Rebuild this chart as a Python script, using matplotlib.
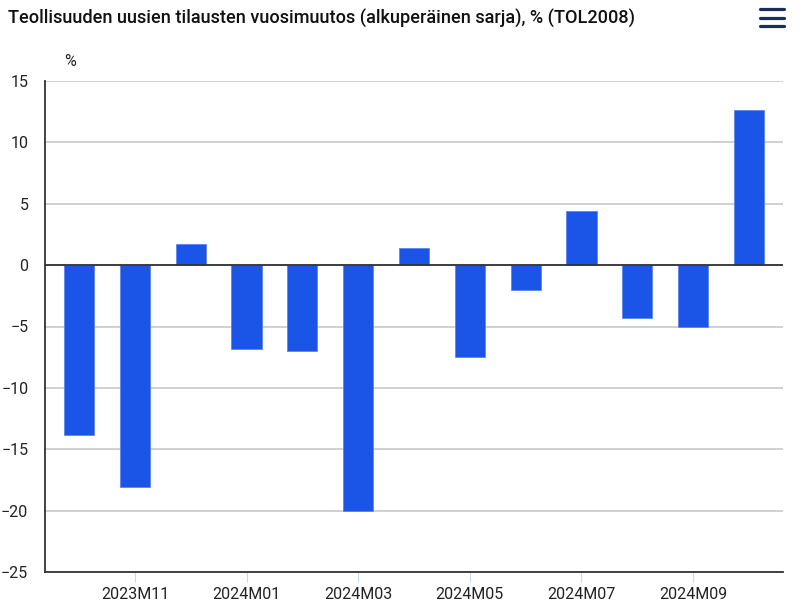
import matplotlib
matplotlib.use("Agg")
import matplotlib.pyplot as plt
from matplotlib.lines import Line2D

months = ["2023M10", "2023M11", "2023M12", "2024M01", "2024M02", "2024M03", "2024M04",
          "2024M05", "2024M06", "2024M07", "2024M08", "2024M09", "2024M10"]
values = [-13.8, -18.1, 1.7, -6.8, -7.0, -20.0, 1.4, -7.5, -2.0, 4.4, -4.3, -5.0, 12.6]
yticks = [-25, -20, -15, -10, -5, 0, 5, 10, 15]
title = "Teollisuuden uusien tilausten vuosimuutos (alkuperäinen sarja), % (TOL2008)"

fam = ["Roboto", "DejaVu Sans"]
plt.rcParams['font.family'] = fam

fig = plt.figure(figsize=(8, 6.08), dpi=100)
ax = fig.add_axes([45/800, 1-572/608, (783-45)/800, (572-81)/608])

x = list(range(len(months)))
ax.bar(x, values, width=0.54, color="#1a55e8", edgecolor="#5c86ef", linewidth=0.6, zorder=3)

ax.set_ylim(-25, 15)
ax.set_xlim(-0.61, 12.61)
ax.set_yticks(yticks)
ax.set_yticklabels([str(v).replace("-", "\u2212") for v in yticks])
ax.grid(axis="y", color="#c8c8c8", linewidth=1.2, zorder=0)
ax.axhline(0, color="#333333", linewidth=1.3, zorder=4)

tick_pos = [1, 3, 5, 7, 9, 11]
ax.set_xticks(tick_pos)
ax.set_xticklabels([months[i] for i in tick_pos])
ax.tick_params(axis="x", length=7, color="#ccd6eb", labelsize=11.5, labelcolor="#222222", pad=4)
ax.tick_params(axis="y", length=0, labelsize=11.5, labelcolor="#222222", pad=12)

for s in ["top", "right"]:
    ax.spines[s].set_visible(False)
ax.spines["left"].set_color("#333333")
ax.spines["left"].set_linewidth(1.3)
ax.spines["bottom"].set_color("#333333")
ax.spines["bottom"].set_linewidth(1.3)

fig.text(8/800, 1-18/608, title, fontsize=13.1, fontweight="medium", color="#111111",
         va="center", ha="left")
fig.text(70/800, 1-61/608, "%", fontsize=11.5, color="#222222", va="center", ha="center")

# hamburger menu icon
for yy in [9, 17.5, 26]:
    fig.add_artist(Line2D([760/800, 784/800], [1-yy/608, 1-yy/608], color="#1c2c5b",
                          linewidth=2.3, solid_capstyle="round"))

fig.savefig("out.png", dpi=100)
